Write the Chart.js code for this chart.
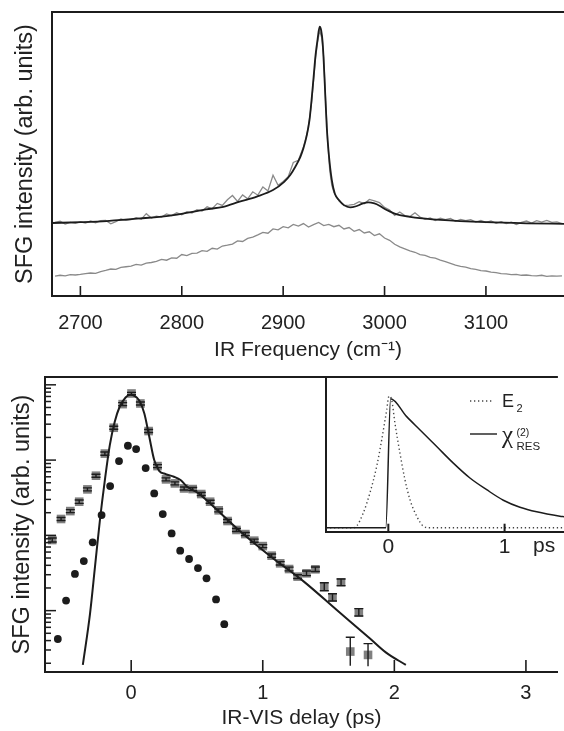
<!DOCTYPE html>
<html><head><meta charset="utf-8">
<script src="https://cdn.jsdelivr.net/npm/chart.js@4.4.1/dist/chart.umd.min.js"></script>
<style>
html,body{margin:0;padding:0;background:#fff;overflow:hidden;width:564px;height:731px}
canvas{position:absolute}
#c1{left:0;top:0}
#c2{left:0;top:365px}
#c3{left:300px;top:365px}
</style></head><body>
<canvas id="c1" width="564" height="365"></canvas>
<canvas id="c2" width="564" height="366"></canvas>
<canvas id="c3" width="264" height="200"></canvas>
<script>
// ---------- top panel: SFG spectra ----------
const topTicks = [2700, 2800, 2900, 3000, 3100];
const fitFreq = [2672,2700,2726,2759,2792,2824,2841,2857,2874,2890,2901,2907,2912,2917,2920,2923,2926,2928,2930,2932,2934,2936,2937.5,2939,2941,2943,2945,2948,2951,2955,2960,2966,2972,2978,2984,2990,2995,2999,3005,3010,3015,3030,3055,3100,3140,3177];
const fitSpec = [25.7,26.0,26.4,27.3,28.5,30.5,31.4,33.2,35.0,37.3,40.2,42.6,45.5,49.0,52.0,56.1,62.0,69.0,77.0,85.0,90.5,94.8,93.5,89.1,75.0,59.5,50.0,40.8,36.0,33.8,32.0,31.2,31.6,32.5,33.0,32.6,31.8,30.9,29.8,29.0,28.5,27.6,26.8,26.0,25.6,25.4];
const measFreq = [2675,2680,2685,2690,2695,2700,2705,2710,2715,2720,2725,2730,2735,2740,2745,2750,2755,2760,2765,2770,2775,2780,2785,2790,2795,2800,2805,2810,2815,2820,2825,2830,2835,2840,2845,2850,2855,2860,2865,2870,2875,2880,2885,2890,2895,2900,2905,2910,2915,2920,
  2922,2924,2926,2928,2930,2932,2934,2936,2938,2940,2942,2944,2946,2948,2950,
  2955,2960,2965,2970,2975,2980,2985,2990,2995,3000,3005,3010,3015,3020,3025,3030,3035,3040,3045,3050,3055,3060,3065,3070,3075,3080,3085,3090,3095,3100,3105,3110,3115,3120,3125,3130,3135,3140,3145,3150,3155,3160,3165,3170,3175];
const measSpec = [25.9,26.3,25.3,25.9,25.6,26.1,25.7,26.4,25.8,26.5,26.6,25.4,26.2,27.1,26.6,26.9,27.6,27.0,29.0,27.5,28.1,27.8,28.9,28.3,29.3,28.6,29.7,29.2,30.4,29.9,31.4,30.7,32.6,31.9,33.9,35.4,33.3,35.6,34.2,36.7,35.5,38.4,37.0,42.5,39.0,40.3,42.0,47.0,47.8,52.5,
  55,58,62.5,68,76,84,89.5,93.5,91,84,68,54,44,39,36.5,
  33.5,31.8,32.0,32.3,33.2,32.5,34.0,33.5,32.9,31.2,30.3,28.4,29.6,28.3,28.0,29.3,27.8,27.0,27.5,26.6,27.4,26.9,27.3,26.3,27.0,26.5,26.9,26.0,26.6,25.9,26.4,25.6,26.2,25.5,26.0,25.2,25.9,26.4,25.7,26.5,26.0,26.6,25.9,26.1,25.5];
const refFreq = [2675,2680,2685,2690,2695,2700,2705,2710,2715,2720,2725,2730,2735,2740,2745,2750,2755,2760,2765,2770,2775,2780,2785,2790,2795,2800,2805,2810,2815,2820,2825,2830,2835,2840,2845,2850,2855,2860,2865,2870,2875,2880,2885,2890,2895,2900,2905,2910,2915,2920,2925,2930,2935,2940,2945,2950,2955,2960,2965,2970,2975,2980,2985,2990,2995,3000,3005,3010,3015,3020,3025,3030,3035,3040,3045,3050,3055,3060,3065,3070,3075,3080,3085,3090,3095,3100,3105,3110,3115,3120,3125,3130,3135,3140,3145,3150,3155,3160,3165,3170,3175];
const refSpec = [7.0,7.3,7.1,7.5,7.4,7.6,7.9,8.1,8.0,8.6,9.0,9.5,9.4,10.1,10.3,10.5,11.1,10.9,11.6,11.8,12.2,12.9,12.6,13.4,13.3,14.6,14.2,15.0,15.1,16.0,15.7,16.8,16.5,17.6,17.9,18.3,19.4,19.2,20.3,20.7,21.5,22.4,22.1,23.6,23.3,24.4,24.0,25.2,24.6,25.5,24.3,25.1,25.9,24.8,25.2,24.4,24.9,23.6,24.1,22.8,23.4,22.2,22.6,21.3,21.9,20.4,19.6,18.2,17.3,16.6,15.9,15.4,14.6,14.3,13.6,13.3,12.6,12.1,11.5,10.9,10.4,10.2,9.6,9.4,8.9,8.8,8.4,8.2,7.9,7.8,7.5,7.6,7.3,7.4,7.2,7.1,7.3,6.9,7.1,7.0,7.1];

// ---------- bottom panel: delay scans ----------
const delayTicks = [0, 1, 2, 3];
const sqDelay = [-0.6,-0.533,-0.4625,-0.395,-0.3325,-0.2675,-0.2,-0.1325,-0.065,0.0025,0.07,0.1325,0.2,0.265,0.3325,0.4025,0.4675,0.5325,0.6,0.665,0.7325,0.8,0.8675,0.935,1.0,1.0675,1.1325,1.2,1.265,1.3325,1.4,1.4675,1.53,1.595,1.665,1.73,1.8];
const sqSignal = [8.67,16.5,21.0,28.0,40.8,62,122,269,554,767,565,243,83.2,55.4,49,42,41.2,35.4,28,21.5,15.5,11.8,10.4,8.5,7.2,5.37,4.25,3.57,2.83,3.13,3.54,2.08,1.50,2.38,0.286,0.95,0.258];
const sqErrDex = [0.027,0.02,0.02,0.022,0.02,0.02,0.022,0.02,0.02,0.015,0.02,0.02,0.02,0.02,0.02,0.02,0.02,0.02,0.02,0.02,0.02,0.02,0.02,0.02,0.02,0.022,0.022,0.025,0.025,0.03,0.03,0.053,0.049,0.044,0.19,0.049,0.15];
const dotDelay = [-0.5575,-0.495,-0.4275,-0.36,-0.2925,-0.225,-0.16,-0.0925,-0.025,0.0375,0.11,0.175,0.24,0.3075,0.3725,0.44,0.5075,0.5725,0.645,0.7075];
const dotSignal = [0.42,1.36,3.07,4.56,8.07,18.6,45.2,97,155,140,78.3,36.1,19.2,10.6,6.25,4.85,3.68,2.69,1.41,0.66];
const fitDelay = [-0.3675,-0.3125,-0.275,-0.2375,-0.2,-0.1625,-0.125,-0.0875,-0.0425,-0.0075,0.025,0.0625,0.1,0.1375,0.175,0.2125,0.2625,0.325,0.375,0.425,0.5125,0.6125,0.8125,1.0625,1.3125,1.5625,1.8125,1.9375,2.0875];
const fitSignal = [0.19,0.92,3.84,16,54.3,158,323,511,679,737,714,614,416,204,100,72.1,65.2,60.1,54.3,44.3,36.1,25.3,12,5.21,2.43,1.02,0.43,0.277,0.19];

// ---------- inset ----------
const insetTicks = [0, 1];
const e2Delay = [-0.536,-0.301,-0.272,-0.215,-0.158,-0.100,-0.057,-0.014,0.006,0.029,0.057,0.100,0.143,0.186,0.244,0.301,0.358,1.511];
const e2Field = [0,0,0.013,0.113,0.265,0.466,0.667,0.894,1.0,0.970,0.794,0.567,0.365,0.214,0.088,0.012,0,0];
const chiDelay = [-0.536,-0.022,0.02,0.158,0.273,0.416,0.559,0.702,0.846,0.989,1.132,1.276,1.476,1.511];
const chiRes = [0,0,0.98,0.844,0.743,0.617,0.491,0.378,0.289,0.209,0.156,0.121,0.088,0.084];

const FONT = "'Liberation Sans', Arial, Helvetica, sans-serif";
Chart.defaults.font.family = FONT;
Chart.defaults.color = '#222';
const INK = '#1c1c1c';
const GRAY = '#8a8a8a';
const pts = (xs, ys) => xs.map((x, i) => ({x: x, y: ys[i]}));

const decor = {
  id: 'decor',
  afterDatasetDraw(chart, args, o) {
    if (!o.err || args.index !== o.err.index) return;
    const {ctx, chartArea: a} = chart;
    const xs = chart.scales.x, ys = chart.scales.y;
    ctx.save();
    ctx.beginPath(); ctx.rect(a.left, a.top, a.right - a.left, a.bottom - a.top); ctx.clip();
    ctx.strokeStyle = INK; ctx.lineWidth = 1.4;
    o.err.x.forEach((t, i) => {
      const v = o.err.y[i], d = o.err.dex[i];
      const px = xs.getPixelForValue(t);
      const hi = ys.getPixelForValue(v * Math.pow(10, d));
      const lo = ys.getPixelForValue(v / Math.pow(10, d));
      ctx.beginPath();
      ctx.moveTo(px, lo); ctx.lineTo(px, hi);
      ctx.moveTo(px - 4.5, hi); ctx.lineTo(px + 4.5, hi);
      if (d < 0.1) { ctx.moveTo(px - 4.5, lo); ctx.lineTo(px + 4.5, lo); }
      ctx.stroke();
    });
    ctx.restore();
  },
  afterDraw(chart, args, o) {
    const {ctx, chartArea: a} = chart;
    ctx.save();
    ctx.strokeStyle = INK;
    if (o.topBorder) {
      ctx.lineWidth = 2;
      ctx.beginPath(); ctx.moveTo(a.left - 1, a.top); ctx.lineTo(a.right, a.top); ctx.stroke();
    }
    if (o.xTicks) {
      ctx.lineWidth = o.tickW || 1.6;
      const xs = chart.scales.x;
      o.xTicks.forEach(v => {
        const px = xs.getPixelForValue(v);
        ctx.beginPath(); ctx.moveTo(px, a.bottom); ctx.lineTo(px, a.bottom - o.xLen); ctx.stroke();
      });
    }
    if (o.logTicks) {
      const ys = chart.scales.y;
      ctx.lineWidth = 1.5;
      for (let e = -2; e <= 4; e++) {
        for (let m = 1; m <= 9; m++) {
          const v = m * Math.pow(10, e);
          if (v < ys.min || v > ys.max) continue;
          const py = ys.getPixelForValue(v);
          const L = m === 1 ? 11 : 6;
          ctx.beginPath(); ctx.moveTo(a.left, py); ctx.lineTo(a.left + L, py); ctx.stroke();
        }
      }
    }
    if (o.legend) {
      ctx.lineWidth = 1.4;
      ctx.strokeStyle = '#444';
      ctx.setLineDash([1.3, 2.7]);
      ctx.beginPath(); ctx.moveTo(170, 36); ctx.lineTo(192, 36); ctx.stroke();
      ctx.setLineDash([]);
      ctx.strokeStyle = INK;
      ctx.beginPath(); ctx.moveTo(170, 69); ctx.lineTo(197, 69); ctx.stroke();
      ctx.fillStyle = '#222';
      ctx.textBaseline = 'alphabetic';
      ctx.textAlign = 'left';
      ctx.font = '18px ' + FONT;
      ctx.fillText('E', 202, 41.7);
      ctx.font = '11px ' + FONT;
      ctx.fillText('2', 216.5, 46.7);
      ctx.font = "25px 'Liberation Serif', 'DejaVu Serif', serif";
      ctx.fillText('χ', 202, 78);
      ctx.font = '10.5px ' + FONT;
      ctx.fillText('(2)', 216.5, 70.5);
      ctx.font = '11.5px ' + FONT;
      ctx.fillText('RES', 216.5, 85);
      ctx.font = '21px ' + FONT;
      ctx.textBaseline = 'middle';
      ctx.fillText('ps', 233, 181.7);
    }
    ctx.restore();
  }
};

const noPlug = {legend: {display: false}, tooltip: {enabled: false}};

new Chart(document.getElementById('c1'), {
  type: 'scatter',
  data: {datasets: [
    {data: pts(fitFreq, fitSpec), showLine: true, borderColor: INK, borderWidth: 1.8, pointRadius: 0, cubicInterpolationMode: 'monotone'},
    {data: pts(measFreq, measSpec), showLine: true, borderColor: GRAY, borderWidth: 1.3, pointRadius: 0},
    {data: pts(refFreq, refSpec), showLine: true, borderColor: GRAY, borderWidth: 1.3, pointRadius: 0}
  ]},
  options: {
    responsive: false, animation: false, events: [],
    layout: {padding: {top: 12, left: 0, right: 0, bottom: 0}},
    plugins: Object.assign({decor: {topBorder: true, xTicks: topTicks, xLen: 10}}, noPlug),
    scales: {
      x: {type: 'linear', min: 2672, max: 3177,
        afterBuildTicks: s => { s.ticks = topTicks.map(v => ({value: v})); },
        ticks: {autoSkip: false, maxRotation: 0, padding: 15, font: {size: 20}, color: '#222', callback: v => String(v)},
        grid: {drawOnChartArea: false, drawTicks: false},
        border: {display: true, color: INK, width: 2},
        title: {display: true, text: 'IR Frequency (cm⁻¹)', font: {size: 21}, color: '#222', padding: {top: 0, bottom: 2}},
        afterFit: s => { s.height = 69; }},
      y: {type: 'linear', min: 0, max: 100,
        ticks: {display: false},
        grid: {drawOnChartArea: false, drawTicks: false},
        border: {display: true, color: INK, width: 2},
        title: {display: true, text: 'SFG intensity (arb. units)', font: {size: 23.5}, color: '#222', padding: {top: 11.9, bottom: 0}},
        afterFit: s => { s.width = 52; }}
    }
  },
  plugins: [decor]
});

new Chart(document.getElementById('c2'), {
  type: 'scatter',
  data: {datasets: [
    {data: pts(fitDelay, fitSignal), showLine: true, borderColor: INK, borderWidth: 2, pointRadius: 0, cubicInterpolationMode: 'monotone'},
    {data: pts(dotDelay, dotSignal), pointStyle: 'circle', pointRadius: 3.9, pointBackgroundColor: INK, pointBorderWidth: 0},
    {data: pts(sqDelay, sqSignal), pointStyle: 'rect', pointRadius: 6.1, pointBackgroundColor: '#808080', pointBorderWidth: 0}
  ]},
  options: {
    responsive: false, animation: false, events: [],
    layout: {padding: {top: 12, left: 0, right: 0, bottom: 0}},
    plugins: Object.assign({decor: {topBorder: true, xTicks: delayTicks, xLen: 12, logTicks: true,
      err: {index: 2, x: sqDelay, y: sqSignal, dex: sqErrDex}}}, noPlug),
    scales: {
      x: {type: 'linear', min: -0.655, max: 3.243,
        afterBuildTicks: s => { s.ticks = delayTicks.map(v => ({value: v})); },
        ticks: {autoSkip: false, maxRotation: 0, padding: 9, font: {size: 20}, color: '#222', callback: v => String(v)},
        grid: {drawOnChartArea: false, drawTicks: false},
        border: {display: true, color: INK, width: 2},
        title: {display: true, text: 'IR-VIS delay (ps)', font: {size: 21}, color: '#222', padding: {top: 0, bottom: 0}},
        afterFit: s => { s.height = 59; }},
      y: {type: 'logarithmic', min: 0.153, max: 1270,
        ticks: {display: false},
        grid: {drawOnChartArea: false, drawTicks: false},
        border: {display: true, color: INK, width: 2},
        title: {display: true, text: 'SFG intensity (arb. units)', font: {size: 23.5}, color: '#222', padding: {top: 8.4, bottom: 0}},
        afterFit: s => { s.width = 45; }}
    }
  },
  plugins: [decor]
});

new Chart(document.getElementById('c3'), {
  type: 'scatter',
  data: {datasets: [
    {data: pts(chiDelay, chiRes), showLine: true, borderColor: INK, borderWidth: 1.5, pointRadius: 0, cubicInterpolationMode: 'monotone'},
    {data: pts(e2Delay, e2Field), showLine: true, borderColor: '#444', borderWidth: 1.4, borderDash: [1.3, 2.7], pointRadius: 0, cubicInterpolationMode: 'monotone'}
  ]},
  options: {
    responsive: false, animation: false, events: [],
    layout: {padding: {top: 12, left: 0, right: 0, bottom: 0}},
    plugins: Object.assign({decor: {xTicks: insetTicks, xLen: 8, tickW: 2, legend: true}}, noPlug),
    scales: {
      x: {type: 'linear', min: -0.536, max: 1.511,
        afterBuildTicks: s => { s.ticks = insetTicks.map(v => ({value: v})); },
        ticks: {autoSkip: false, maxRotation: 0, padding: 3, font: {size: 21}, color: '#222', callback: v => String(v)},
        grid: {drawOnChartArea: false, drawTicks: false},
        border: {display: true, color: INK, width: 2},
        afterFit: s => { s.height = 33.3; }},
      y: {type: 'linear', min: -0.03, max: 1.145,
        ticks: {display: false},
        grid: {drawOnChartArea: false, drawTicks: false},
        border: {display: true, color: INK, width: 2},
        afterFit: s => { s.width = 26; }}
    }
  },
  plugins: [decor]
});
</script></body></html>
